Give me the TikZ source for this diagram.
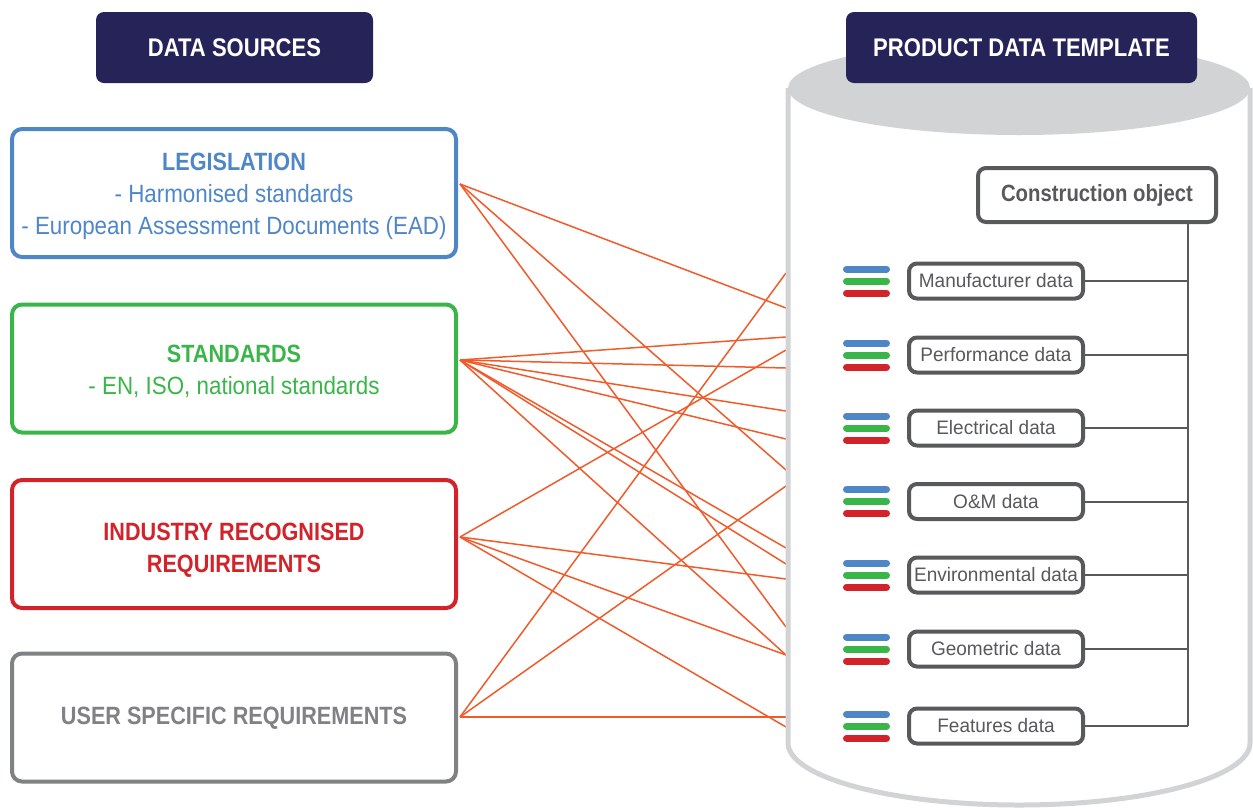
\documentclass[tikz,border=0pt]{standalone}
\usepackage{fontspec}
\setmainfont{Liberation Sans}
\newfontfamily\rc[FakeStretch=0.895]{Liberation Sans}
\newfontfamily\rcb[FakeStretch=0.865]{Liberation Sans}
\newfontfamily\rcl[FakeStretch=0.975]{Liberation Sans}
\newcommand\hdfont{\rcb\bfseries}
\usetikzlibrary{calc}
\definecolor{navy}{HTML}{262358}
\definecolor{cblue}{HTML}{4F87C6}
\definecolor{cgreen}{HTML}{3AB54A}
\definecolor{cred}{HTML}{D2232A}
\definecolor{cgrey}{HTML}{808184}
\definecolor{dgrey}{HTML}{58595B}
\definecolor{lgrey}{HTML}{D1D3D4}
\definecolor{orng}{HTML}{F15A29}
\begin{document}
\begin{tikzpicture}[x=1pt,y=-1pt,
  title/.style={fill=navy, rounded corners=8pt, minimum height=71pt, text=white,
    font=\rcb\bfseries\fontsize{25.5}{30}\selectfont, inner sep=0pt},
  src/.style={draw=#1, line width=4pt, rounded corners=10pt, minimum width=444pt,
    minimum height=128pt, inner sep=0pt},
  srctext/.style={text=#1, align=center, inner sep=0pt,
    font=\rc\fontsize{25}{32}\selectfont},
  databox/.style={draw=dgrey, line width=4pt, rounded corners=8pt, minimum width=174pt,
    minimum height=35pt, inner sep=0pt, text=dgrey, fill=white,
    font=\rcl\fontsize{19.5}{22}\selectfont},
  cobj/.style={draw=dgrey, line width=4pt, rounded corners=8pt, minimum width=238pt,
    minimum height=54pt, inner sep=0pt, text=dgrey, fill=white,
    font=\rcb\bfseries\fontsize{23.5}{26}\selectfont},
  tree/.style={draw=dgrey, line width=2pt},
  bar/.style={line width=7pt, line cap=round},
  link/.style={draw=orng, line width=1.5pt}
]
\useasboundingbox (0,0) rectangle (1253,807);

% source boxes
\node[src=cblue] (L) at (234,193) {};
\node[src=cgreen] (S) at (234,368.5) {};
\node[src=cred] (I) at (234,544) {};
\node[src=cgrey] (U) at (234,717.5) {};
\node[srctext=cblue] (Lt) at ($(L.center)+(0,3.5)$) {{\hdfont LEGISLATION}\\- Harmonised standards\\- European Assessment Documents (EAD)};
\node[srctext=cgreen] (St) at ($(S.center)+(0,3)$) {{\hdfont STANDARDS}\\- EN, ISO, national standards};
\node[srctext=cred] (It) at ($(I.center)+(0,6.5)$) {{\hdfont INDUSTRY RECOGNISED}\\{\hdfont REQUIREMENTS}};
\node[srctext=cgrey] (Ut) at ($(U.center)+(0,1)$) {{\hdfont USER SPECIFIC REQUIREMENTS}};

% link start points
\coordinate (Lo) at ($(L.east)+(2,-9)$);
\coordinate (So) at ($(S.east)+(2,-8.5)$);
\coordinate (Io) at ($(I.east)+(2,-7)$);
\coordinate (Uo) at ($(U.east)+(2,-0.5)$);
\foreach \y in {273,308,337,350,368,411,439,470,486,548,564,579,627,655,717,727}
  \coordinate (w\y) at (786,\y);

\foreach \s/\t in {Lo/308,Lo/470,Lo/627,
  So/337,So/368,So/411,So/439,So/548,So/564,So/655,
  Io/350,Io/579,Io/655,Io/727,
  Uo/273,Uo/486,Uo/717}
  \draw[link] (\s) -- (w\t);

% cylinder
\fill[lgrey] (1019,88) ellipse [x radius=231, y radius=47];
\draw[lgrey, line width=5pt] (788,88) -- (788,743)
  .. controls (788,777) and (891,805) .. (1019,805)
  .. controls (1147,805) and (1250,777) .. (1250,743) -- (1250,88);

% titles
\node[title, minimum width=277pt] (DS) at (234.5,47.5) {DATA SOURCES};
\node[title, minimum width=351pt] (PDT) at (1021.5,47.5) {PRODUCT DATA TEMPLATE};

% construction object and data boxes
\node[cobj] (C) at (1097,195) {Construction object};
\node[databox] (M) at (996,281) {Manufacturer data};
\node[databox] (P) at (996,355) {Performance data};
\node[databox] (E) at (996,428) {Electrical data};
\node[databox] (O) at (996,501.5) {O\&M data};
\node[databox] (V) at (996,575) {Environmental data};
\node[databox] (G) at (996,649) {Geometric data};
\node[databox] (F) at (996,726) {Features data};

\coordinate (trunk) at (1188,0);
\draw[tree] (C.south -| trunk) -- (F.east -| trunk);
\foreach \n in {M,P,E,O,V,G,F} {
  \draw[tree] (\n.east) -- (\n.east -| trunk);
  \draw[bar,cblue] ($(\n.west)+(-60.5,-12)$) -- ($(\n.west)+(-20.5,-12)$);
  \draw[bar,cgreen] ($(\n.west)+(-60.5,0)$) -- ($(\n.west)+(-20.5,0)$);
  \draw[bar,cred] ($(\n.west)+(-60.5,12)$) -- ($(\n.west)+(-20.5,12)$);
}
\end{tikzpicture}
\end{document}
